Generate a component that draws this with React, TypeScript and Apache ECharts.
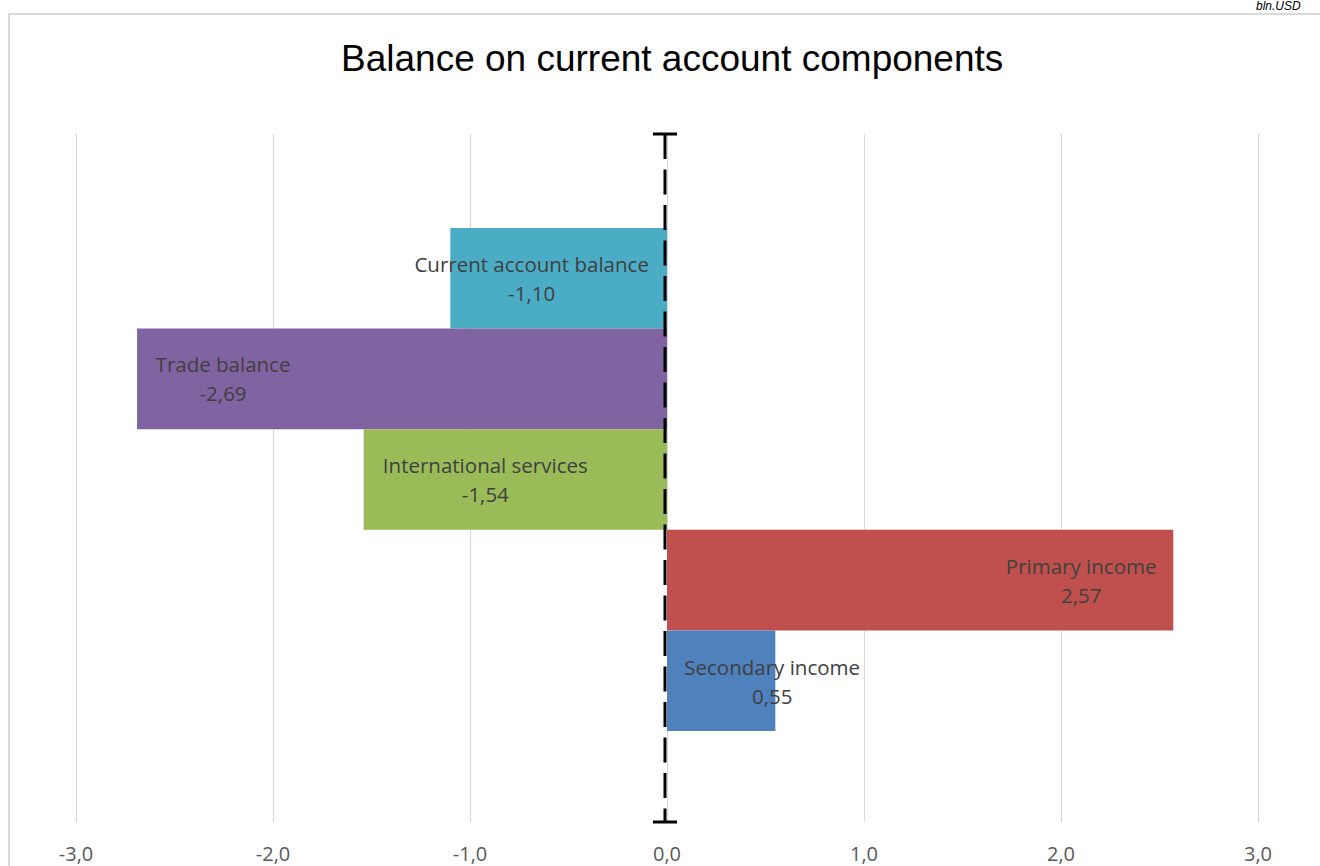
import React, { useEffect, useRef } from "react";
import * as echarts from "echarts";

// Current account components, bln. USD
const categories = [
  "Current account balance",
  "Trade balance",
  "International services",
  "Primary income",
  "Secondary income",
];
const values = [-1.1, -2.69, -1.54, 2.57, 0.55];
const barColors = ["#4BACC6", "#8064A2", "#9BBB59", "#C0504D", "#4F81BD"];
// label shift from the bar centre, px
const labelOffsets = [
  [-27, 0],
  [-179, 0],
  [-30, 0],
  [161, 0],
  [51, 1],
];
const axisMin = -3;
const axisMax = 3;
const axisStep = 1;
// the dashed zero marker spans the whole plot height
const zeroMarker = [[0, 0, 1]];

const fmt = (v: number, d: number) => v.toFixed(d).replace(".", ",");

const LABEL_FONT = "'Open Sans', 'Noto Sans', sans-serif";

export default function App() {
  const ref = useRef<HTMLDivElement>(null);

  useEffect(() => {
    if (!ref.current) return;
    const chart = echarts.init(ref.current, null, { renderer: "svg" });

    const option: any = {
      animation: false,
      backgroundColor: "#ffffff",
      title: {
        text: "Balance on current account components",
        left: 336,
        top: 35,
        textStyle: {
          fontFamily: "'Liberation Sans', Arial, sans-serif",
          fontSize: 37,
          fontWeight: "normal",
          color: "#000000",
        },
      },
      graphic: [
        {
          type: "rect",
          shape: { x: 9, y: 14, width: 1400, height: 900 },
          style: { fill: "none", stroke: "#d9d9d9", lineWidth: 2 },
          silent: true,
        },
        {
          type: "text",
          x: 1256,
          y: 0,
          style: {
            text: "bln.USD",
            font: "italic 12px 'Liberation Sans', Arial, sans-serif",
            fill: "#000000",
            verticalAlign: "top",
          },
        },
      ],
      grid: [
        { left: 76, right: 62, top: 134, bottom: 44 },
        { left: 76, right: 62, top: 228, bottom: 135 },
      ],
      xAxis: [
        {
          gridIndex: 0,
          type: "value",
          min: axisMin,
          max: axisMax,
          interval: axisStep,
          axisLine: { show: false },
          axisTick: { show: false },
          splitLine: { lineStyle: { color: "#d9d9d9", width: 1 } },
          axisLabel: {
            formatter: (v: number) => fmt(v, 1),
            color: "#595959",
            fontSize: 20,
            fontFamily: LABEL_FONT,
            margin: 21,
          },
        },
        {
          gridIndex: 1,
          type: "value",
          min: axisMin,
          max: axisMax,
          interval: axisStep,
          show: false,
          splitLine: { show: false },
        },
      ],
      yAxis: [
        {
          gridIndex: 0,
          type: "value",
          min: 0,
          max: 1,
          show: false,
          splitLine: { show: false },
        },
        {
          gridIndex: 1,
          type: "category",
          data: categories,
          inverse: true,
          show: false,
        },
      ],
      series: [
        {
          type: "bar",
          xAxisIndex: 1,
          yAxisIndex: 1,
          barCategoryGap: 0,
          barWidth: "100%",
          data: values.map((v, i) => ({
            value: v,
            itemStyle: { color: barColors[i] },
            label: { offset: labelOffsets[i] },
          })),
          label: {
            show: true,
            position: "inside",
            color: "#404040",
            fontSize: 20.5,
            fontFamily: LABEL_FONT,
            lineHeight: 29,
            align: "center",
            formatter: (p: any) => `${p.name}\n${fmt(p.value, 2)}`,
          },
          z: 2,
        },
        {
          type: "custom",
          xAxisIndex: 0,
          yAxisIndex: 0,
          data: zeroMarker,
          z: 5,
          renderItem: (params: any, api: any) => {
            const x0 = api.value(0);
            const top = api.coord([x0, api.value(2)]);
            const bot = api.coord([x0, api.value(1)]);
            const x = top[0] - 2;
            const cap = 12;
            const stroke = { stroke: "#000000", lineWidth: 3 };
            return {
              type: "group",
              children: [
                {
                  type: "line",
                  shape: { x1: x, y1: top[1], x2: x, y2: bot[1] },
                  style: { ...stroke, lineDash: [25, 10.5] },
                },
                {
                  type: "line",
                  shape: { x1: x - cap, y1: top[1], x2: x + cap, y2: top[1] },
                  style: stroke,
                },
                {
                  type: "line",
                  shape: { x1: x - cap, y1: bot[1], x2: x + cap, y2: bot[1] },
                  style: stroke,
                },
              ],
            };
          },
        },
      ],
    };

    chart.setOption(option);
    return () => chart.dispose();
  }, []);

  return (
    <div
      ref={ref}
      style={{ position: "absolute", left: 0, top: 0, width: 1320, height: 866 }}
    />
  );
}
